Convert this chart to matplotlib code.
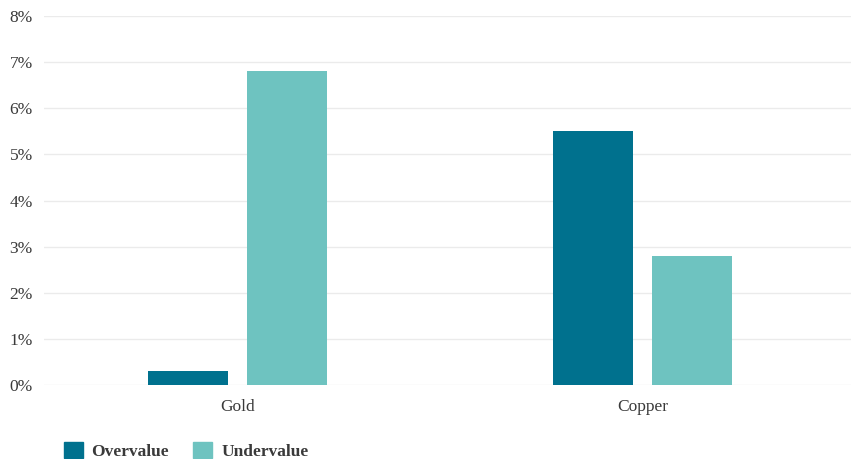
import matplotlib.pyplot as plt
import numpy as np
from matplotlib.patches import Patch

metals = ['Gold', 'Copper']
overvalue = [0.3, 5.5]
undervalue = [6.8, 2.8]
yticks = [0, 1, 2, 3, 4, 5, 6, 7, 8]

dark = '#00718e'
light = '#6ec3c0'
text_col = '#3a3a3a'

plt.rcParams['font.family'] = ['Liberation Serif', 'DejaVu Serif']

fig = plt.figure(figsize=(8.58, 4.59), dpi=100)
ax = fig.add_axes([0.0513, 0.161, 0.94, 0.804])

x = np.arange(len(metals))
w = 0.197
ax.bar(x - 0.122, overvalue, w, color=dark, zorder=3)
ax.bar(x + 0.122, undervalue, w, color=light, zorder=3)

ax.set_xlim(-0.477, 1.514)
ax.set_ylim(0, 8)
ax.set_yticks(yticks)
ax.set_yticklabels([f'{v}%' for v in yticks], fontsize=12.5, color=text_col)
ax.set_xticks(x)
ax.set_xticklabels(metals, fontsize=12.5, color=text_col)
ax.tick_params(axis='both', length=0)
ax.tick_params(axis='y', pad=8)
ax.tick_params(axis='x', pad=10)
ax.grid(axis='y', color='#ebebeb', linewidth=1, zorder=0)
for s in ax.spines.values():
    s.set_visible(False)

handles = [Patch(color=dark, label='Overvalue'), Patch(color=light, label='Undervalue')]
leg = fig.legend(handles=handles, loc='lower left', bbox_to_anchor=(0.056, -0.036),
                 ncol=2, frameon=False, handlelength=1.1, handleheight=1.1,
                 columnspacing=1.4, handletextpad=0.5,
                 prop={'size': 12.5, 'weight': 'bold'})
for t in leg.get_texts():
    t.set_color(text_col)

fig.savefig('out.png', dpi=100)
